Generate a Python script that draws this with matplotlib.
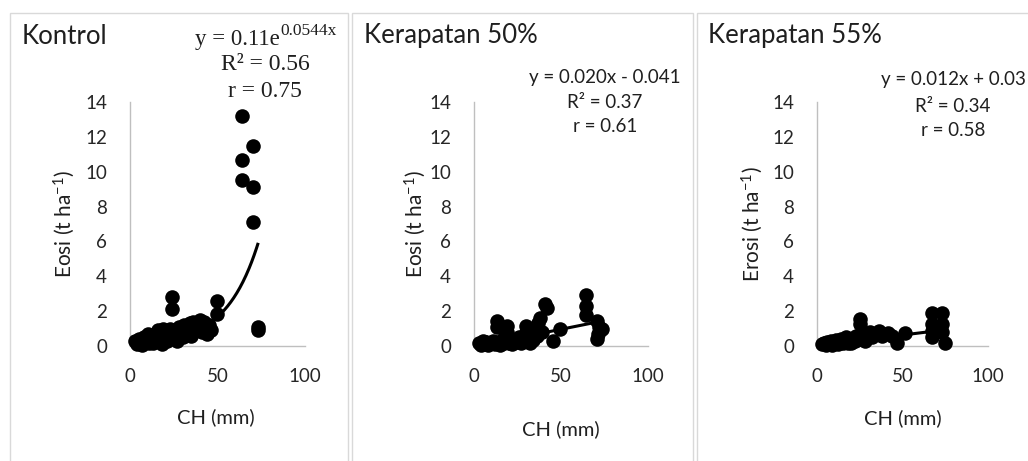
import matplotlib
matplotlib.use("Agg")
import matplotlib.pyplot as plt
import numpy as np
from matplotlib.patches import Rectangle

plt.rcParams['font.family'] = ['Lato', 'DejaVu Sans']
plt.rcParams['mathtext.fontset'] = 'custom'
plt.rcParams['mathtext.rm'] = 'Lato'
plt.rcParams['mathtext.default'] = 'regular'

# ---------------- data ----------------
titles = ["Kontrol", "Kerapatan 50%", "Kerapatan 55%"]
ylabels = ["Eosi (t ha$^{-1}$)", "Eosi (t ha$^{-1}$)", "Erosi (t ha$^{-1}$)"]
xlabel = "CH (mm)"
xticks = [0, 50, 100]
yticks = [0, 2, 4, 6, 8, 10, 12, 14]

ch_kontrol = [3, 4, 5, 6, 7, 8, 9, 10, 11, 12, 13, 14, 15, 16, 17, 18, 19, 20,
              21, 22, 23, 24, 24, 25, 26, 27, 28, 29, 30, 31, 32, 33, 34, 35, 36,
              37, 38, 39, 40, 41, 42, 43, 44, 45, 46, 49.5, 49.5,
              64, 64, 64, 70, 70, 70, 73, 73]
erosi_kontrol = [0.3, 0.1, 0.4, 0.2, 0.05, 0.5, 0.3, 0.7, 0.15, 0.4, 0.2, 0.6, 0.3,
                 0.9, 0.5, 0.1, 1.0, 0.6, 0.3, 0.8, 1.0, 2.8, 2.1, 0.5, 0.9, 0.3,
                 1.1, 0.7, 0.5, 1.2, 0.8, 1.0, 1.3, 0.6, 1.4, 1.1, 0.9, 1.3, 1.5,
                 0.8, 1.4, 1.1, 0.7, 1.2, 0.9, 2.6, 1.85,
                 13.2, 10.7, 9.5, 11.5, 9.1, 7.1, 1.1, 0.9]

ch_50 = [3, 4, 5, 6, 7, 8, 10, 11, 12, 13, 13, 14, 15, 16, 17, 18, 19, 19, 20,
         22, 23, 25, 26, 27, 28, 29, 30, 30, 31, 32, 33, 34, 35, 36, 37, 38, 39,
         41, 42, 45.6, 49.4, 64.4, 64.4, 64.4, 70.5, 72, 73.4, 71, 70.5]
erosi_50 = [0.2, 0.05, 0.3, 0.1, 0.25, 0.05, 0.15, 0.3, 0.1, 1.45, 1.1, 0.2, 0.05,
            0.35, 0.15, 0.5, 1.15, 0.8, 0.2, 0.1, 0.35, 0.25, 0.5, 0.15, 0.3, 0.6,
            1.15, 0.8, 0.4, 0.2, 0.55, 0.35, 0.9, 0.6, 1.3, 1.6, 0.8, 2.4, 2.2,
            0.3, 1.0, 2.95, 2.3, 1.8, 1.45, 1.1, 0.95, 0.7, 0.4]

ch_55 = [3, 4, 5, 6, 7, 8, 9, 10, 11, 12, 13, 14, 15, 16, 17, 18, 19, 20, 21, 22,
         23, 25, 25, 26, 27, 28, 29, 31, 32, 34, 36, 38, 41.5, 44, 46.6, 51.5,
         67, 67, 67, 67, 72.9, 72.9, 73, 74.9]
erosi_55 = [0.1, 0.2, 0.05, 0.25, 0.1, 0.3, 0.05, 0.2, 0.35, 0.1, 0.25, 0.4, 0.15,
            0.3, 0.5, 0.2, 0.35, 0.15, 0.45, 0.3, 0.55, 1.55, 1.25, 0.4, 0.6, 0.3,
            0.7, 0.8, 0.5, 0.7, 0.85, 0.6, 0.75, 0.6, 0.2, 0.75,
            1.9, 1.25, 0.85, 0.5, 1.9, 1.25, 0.8, 0.2]

# trendline coefficients (as shown on chart)
exp_a, exp_b = 0.11, 0.0544      # Kontrol: y = a e^(b x)
lin50_m, lin50_c = 0.020, -0.041
lin55_m, lin55_c = 0.012, 0.03

# ---------------- figure ----------------
W, H = 1028, 461
fig = plt.figure(figsize=(W / 100, H / 100), dpi=100)


def fx(x):
    return x / W


def fy(y):
    return 1 - y / H


# panel frames
for (l, r) in [(10, 348), (352, 693), (697, 1040)]:
    fig.patches.append(Rectangle((fx(l), fy(470)), fx(r - l), (470 - 13) / H,
                                 transform=fig.transFigure, fill=False,
                                 edgecolor="#d9d9d9", linewidth=1.0))

axes_px = [(130, 305), (474, 648), (817, 988)]
y_top, y_bot = 102, 346
tick_color = "#262626"
text_color = "#1f1f1f"
spine_color = "#bfbfbf"

datasets = [(ch_kontrol, erosi_kontrol), (ch_50, erosi_50), (ch_55, erosi_55)]

axs = []
for i, ((l, r), (xs, ys)) in enumerate(zip(axes_px, datasets)):
    ax = fig.add_axes([fx(l), fy(y_bot), fx(r - l), (y_bot - y_top) / H])
    axs.append(ax)
    ax.set_xlim(0, 100)
    ax.set_ylim(0, 14)
    ax.set_xticks(xticks)
    ax.set_yticks(yticks)
    for s in ["top", "right"]:
        ax.spines[s].set_visible(False)
    for s in ["left", "bottom"]:
        ax.spines[s].set_color(spine_color)
        ax.spines[s].set_linewidth(1.0)
    ax.tick_params(axis="both", length=0, labelsize=13.5, colors=tick_color)
    ax.tick_params(axis="y", pad=16.5)
    ax.tick_params(axis="x", pad=16)
    ax.scatter(xs, ys, s=110, color="black", zorder=3, clip_on=False, linewidths=0)
    xmin, xmax = min(xs), max(xs)
    xx = np.linspace(xmin, xmax, 200)
    if i == 0:
        yy = exp_a * np.exp(exp_b * xx)
    elif i == 1:
        yy = lin50_m * xx + lin50_c
    else:
        yy = lin55_m * xx + lin55_c
    ax.plot(xx, yy, color="black", linewidth=2.2, zorder=4)
    ax.patch.set_alpha(0)

# titles
for x0, t in zip([22, 364, 708], titles):
    fig.text(fx(x0), fy(36), t, fontsize=18.5, color=text_color, ha="left", va="center")

# axis labels
for xc, yc in zip([216, 561, 903], [417, 429, 418]):
    fig.text(fx(xc), fy(yc), xlabel, fontsize=14.5, color=text_color, ha="center", va="center")
for xc, lab in zip([64, 415, 752], ylabels):
    fig.text(fx(xc), fy(224), lab, fontsize=15, color=text_color, ha="center",
             va="center", rotation=90)

# equations
serif = "Liberation Serif"
fig.text(fx(280), fy(39), "y = 0.11e", fontsize=16.5, family=serif,
         color=text_color, ha="right", va="center")
fig.text(fx(280), fy(31), "0.0544x", fontsize=12.5, family=serif,
         color=text_color, ha="left", va="center")
fig.text(fx(265), fy(65), "R² = 0.56", fontsize=17, family=serif,
         color=text_color, ha="center", va="center")
fig.text(fx(265), fy(91), "r = 0.75", fontsize=17, family=serif,
         color=text_color, ha="center", va="center")

for xc, ys_, lines in [(605, [77, 102, 127], ["y = 0.020x - 0.041", "R² = 0.37", "r = 0.61"]),
                       (953, [80, 106, 130], ["y = 0.012x + 0.03", "R² = 0.34", "r = 0.58"])]:
    for yc, s in zip(ys_, lines):
        fig.text(fx(xc), fy(yc), s, fontsize=13.5, color=text_color, ha="center", va="center")

fig.savefig("out.png", dpi=100)
